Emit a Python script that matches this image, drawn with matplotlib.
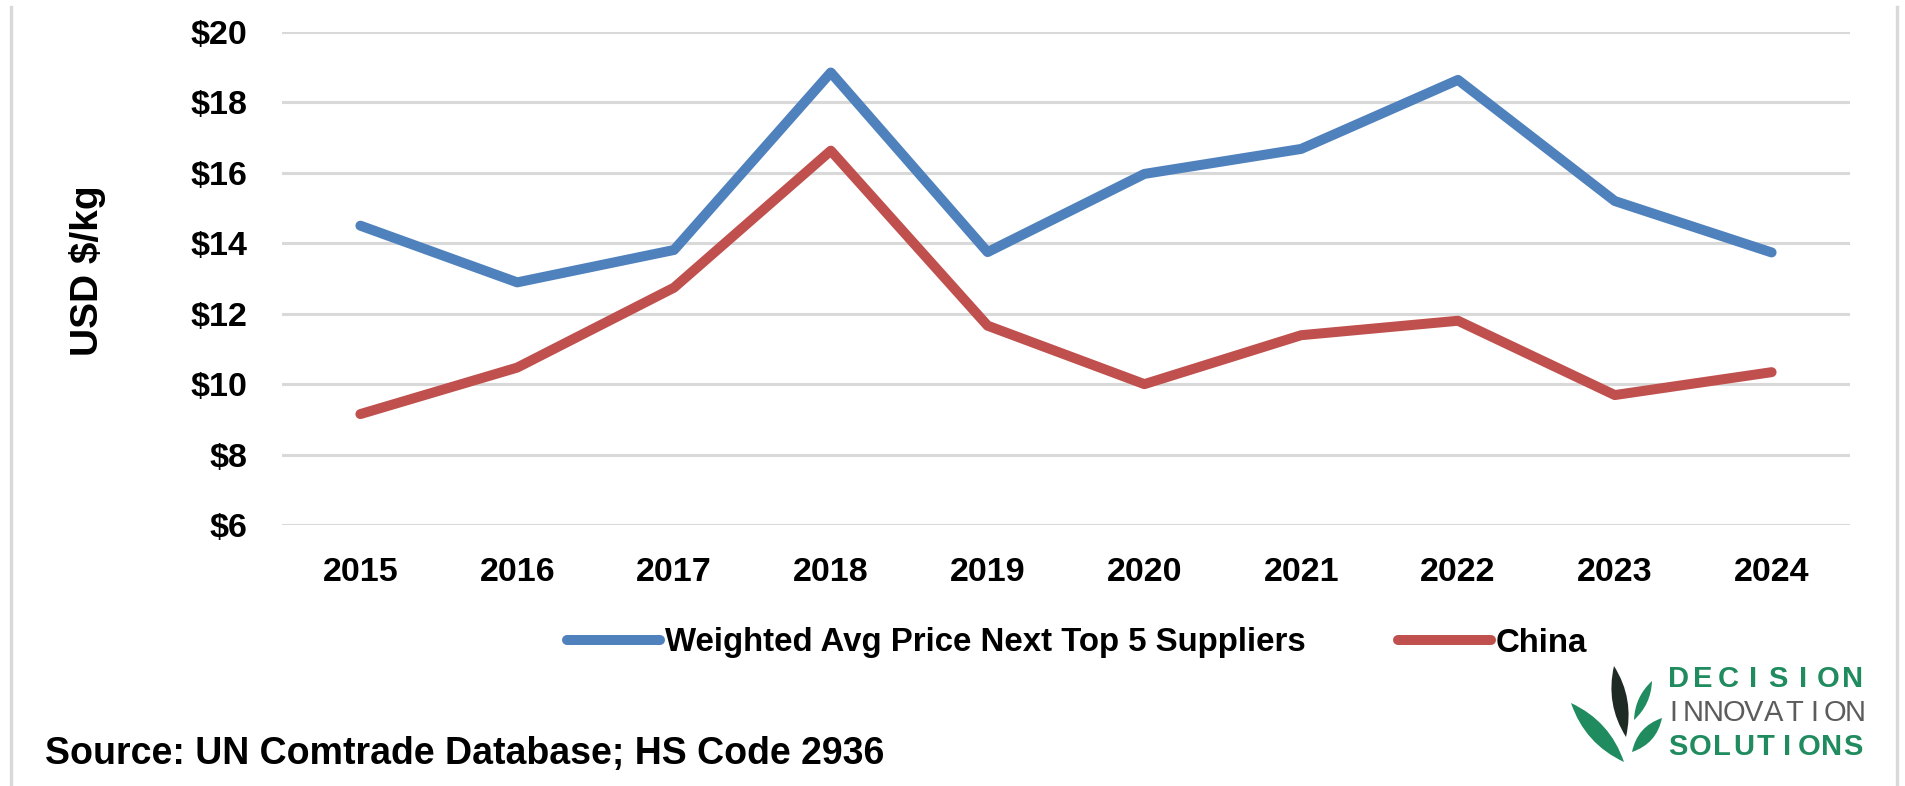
import matplotlib
matplotlib.use("Agg")
import matplotlib.pyplot as plt
from matplotlib.lines import Line2D
from matplotlib.path import Path
from matplotlib.patches import PathPatch
from matplotlib.ticker import FuncFormatter

years = ["2015", "2016", "2017", "2018", "2019", "2020", "2021", "2022", "2023", "2024"]
weighted_avg = [14.50, 12.89, 13.81, 18.85, 13.75, 15.97, 16.68, 18.64, 15.20, 13.74]
china = [9.15, 10.47, 12.74, 16.63, 11.66, 10.00, 11.39, 11.80, 9.69, 10.34]
series_names = ["Weighted Avg Price Next Top 5 Suppliers", "China"]
y_ticks = [6, 8, 10, 12, 14, 16, 18, 20]

W, H, DPI = 1906, 786, 100
fig = plt.figure(figsize=(W / DPI, H / DPI), dpi=DPI)
fig.patch.set_facecolor("white")

BOLD = ["Liberation Sans", "DejaVu Sans"]

ax = fig.add_axes([282 / W, 1 - 525 / H, (1850 - 282) / W, (525 - 32) / H])
x = list(range(len(years)))
ax.plot(x, weighted_avg, color="#4f81bd", lw=7.2, solid_capstyle="round",
        solid_joinstyle="round", label=series_names[0], zorder=3)
ax.plot(x, china, color="#c0504d", lw=7.2, solid_capstyle="round",
        solid_joinstyle="round", label=series_names[1], zorder=3)

ax.set_xlim(-0.5, len(years) - 0.5)
ax.set_ylim(6, 20)
ax.set_yticks(y_ticks)
ax.yaxis.set_major_formatter(FuncFormatter(lambda v, p: f"${v:.0f}"))
ax.set_xticks(x)
ax.set_xticklabels(years)
ax.grid(axis="y", color="#d9d9d9", lw=2.2, zorder=0)
ax.set_axisbelow(True)
for s in ax.spines.values():
    s.set_visible(False)
ax.tick_params(axis="both", length=0, labelsize=24.5, colors="black")
ax.tick_params(axis="y", pad=25)
ax.tick_params(axis="x", pad=23)
for lab in ax.get_xticklabels() + ax.get_yticklabels():
    lab.set_family(BOLD)
    lab.set_fontweight("bold")

ax.set_ylabel("USD $/kg", fontsize=28, fontweight="bold", family=BOLD)
ax.yaxis.set_label_coords(-0.1125, 0.515)

leg = ax.legend(loc="center", bbox_to_anchor=(1077 / W, 1 - 643 / H),
                bbox_transform=fig.transFigure, ncol=2, frameon=False,
                prop={"family": BOLD, "weight": "bold", "size": 23.8},
                handlelength=2.8, handletextpad=0.15, columnspacing=2.8,
                borderpad=0)
for ln in leg.get_lines():
    ln.set_linewidth(7.2)

# source note
fig.text(45 / W, 1 - 754 / H, "Source: UN Comtrade Database; HS Code 2936",
         fontsize=27, fontweight="bold", family=BOLD, ha="left", va="center")

# outer frame lines
fig.add_artist(Line2D([11 / W, 11 / W], [0, 1 - 7 / H], color="#d9d9d9", lw=2.4))
fig.add_artist(Line2D([1897 / W, 1897 / W], [0, 1 - 7 / H], color="#d9d9d9", lw=2.4))

# logo
def leaf(p0, p1, width, color):
    (x0, y0), (x1, y1) = p0, p1
    dx, dy = x1 - x0, y1 - y0
    L = (dx * dx + dy * dy) ** 0.5
    nx, ny = -dy / L * width, dx / L * width
    mx, my = (x0 + x1) / 2, (y0 + y1) / 2
    pts = [(x0, y0), (mx + nx, my + ny), (x1, y1), (mx - nx, my - ny)]
    pts = [(px / W, 1 - py / H) for px, py in pts]
    verts = [pts[0], pts[1], pts[2], pts[3], pts[0]]
    codes = [Path.MOVETO, Path.CURVE3, Path.CURVE3, Path.CURVE3, Path.CURVE3]
    fig.add_artist(PathPatch(Path(verts, codes), transform=fig.transFigure,
                             facecolor=color, edgecolor="none"))

GREEN = "#1f8b5e"
leaf((1571, 703), (1624, 762), 17, GREEN)
leaf((1614, 666), (1626, 737), 15, "#1e2a24")
leaf((1652, 681), (1634, 720), 9, GREEN)
leaf((1662, 718), (1632, 752), 13, GREEN)

def spaced(word, x0, x1, yc, color, weight):
    n = len(word)
    step = (x1 - x0) / (n - 1)
    for i, ch in enumerate(word):
        fig.text((x0 + i * step) / W, 1 - yc / H, ch, fontsize=21, color=color,
                 fontweight=weight, family=BOLD, ha="center", va="center")

spaced("DECISION", 1678, 1853, 679, GREEN, "bold")
spaced("INNOVATION", 1673, 1855, 713, "#5c5c5c", "normal")
spaced("SOLUTIONS", 1678, 1853, 747, GREEN, "bold")

fig.savefig("out.png", dpi=DPI, facecolor="white")
